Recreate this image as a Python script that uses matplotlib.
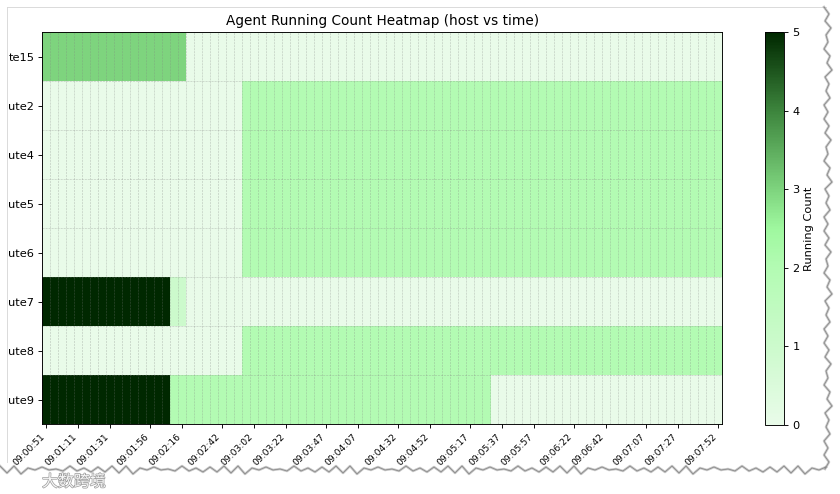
import numpy as np
import matplotlib
matplotlib.use("Agg")
import matplotlib.pyplot as plt
import matplotlib.patheffects as pe
from matplotlib.colors import LinearSegmentedColormap
from matplotlib.lines import Line2D

hosts = ["te15", "ute2", "ute4", "ute5", "ute6", "ute7", "ute8", "ute9"]
n_cols = 85
tick_labels = ["09:00:51", "09:01:11", "09:01:31", "09:01:56", "09:02:16",
               "09:02:42", "09:03:02", "09:03:22", "09:03:47", "09:04:07",
               "09:04:32", "09:04:52", "09:05:17", "09:05:37", "09:05:57",
               "09:06:22", "09:06:42", "09:07:07", "09:07:27", "09:07:52"]

# run-length encoded counts per host: (value, number of time columns)
runs_te15 = [(3, 18), (0, 67)]
runs_ute2 = [(0, 25), (2, 60)]
runs_ute4 = [(0, 25), (2, 60)]
runs_ute5 = [(0, 25), (2, 60)]
runs_ute6 = [(0, 25), (2, 60)]
runs_ute7 = [(5, 16), (1, 2), (0, 67)]
runs_ute8 = [(0, 25), (2, 60)]
runs_ute9 = [(5, 16), (2, 40), (0, 29)]
all_runs = [runs_te15, runs_ute2, runs_ute4, runs_ute5,
            runs_ute6, runs_ute7, runs_ute8, runs_ute9]

matrix = np.array([np.repeat([v for v, _ in r], [c for _, c in r]) for r in all_runs],
                  dtype=float)

cmap = LinearSegmentedColormap.from_list(
    "agent_greens",
    [(0.0, "#e9fbe9"), (0.2, "#ccfacc"), (0.4, "#b3fbb3"), (0.5, "#9ff89f"),
     (0.6, "#7ed47e"), (0.8, "#3d853d"), (1.0, "#002800")])

DPI = 82
W, H = 840, 494
fig = plt.figure(figsize=(W / DPI, H / DPI), dpi=DPI)
ax = fig.add_axes([42.3 / W, 1 - 424.3 / H, 680 / W, 392 / H])
cax = fig.add_axes([765 / W, 1 - 425 / H, 19.3 / W, 392.7 / H])

im = ax.imshow(matrix, aspect="auto", cmap=cmap, vmin=0, vmax=5,
               interpolation="nearest")

tick_idx = np.linspace(0, n_cols - 1, len(tick_labels)).astype(int)
ax.set_xticks(tick_idx)
ax.set_xticklabels(tick_labels, rotation=45, ha="right", fontsize=8)
ax.set_yticks(np.arange(len(hosts)))
ax.set_yticklabels(hosts, fontsize=10)

ax.set_xticks(np.arange(n_cols + 1) - 0.5, minor=True)
ax.set_yticks(np.arange(len(hosts) + 1) - 0.5, minor=True)
ax.grid(which="minor", color="gray", linestyle="--", linewidth=0.5, alpha=0.45)
ax.tick_params(which="minor", length=0)
ax.grid(which="major", visible=False)

ax.set_title("Agent Running Count Heatmap (host vs time)", fontsize=12)

cb = fig.colorbar(im, cax=cax)
cb.set_label("Running Count", fontsize=10)
cb.set_ticks([0, 1, 2, 3, 4, 5])

# screenshot frame and torn-paper edge (decoration)
def px(x, y):
    return x / W, 1 - y / H

frame_col = "#d8d8d8"
fig.add_artist(Line2D(*zip(px(7, 7), px(826, 7)), color=frame_col, lw=0.8,
                      transform=fig.transFigure))
fig.add_artist(Line2D(*zip(px(7, 7), px(7, 462)), color=frame_col, lw=0.8,
                      transform=fig.transFigure))

jag = [0, 5, 1, 7, 2, 4, 0, 6, 3, 8, 1, 5, 2, 6, 0, 4]
ry = np.arange(7, 470, 7)
rx = [824 + jag[i % len(jag)] for i in range(len(ry))]
bx = np.arange(0, 830, 7)
by = [466 + jag[(i * 3) % len(jag)] for i in range(len(bx))]
for xs, ys in ((rx, ry), (bx, by)):
    pts = [px(a, b) for a, b in zip(xs, ys)]
    fig.add_artist(Line2D([p[0] for p in pts], [p[1] for p in pts],
                          color="#9a9a9a", lw=2.2, alpha=0.55,
                          transform=fig.transFigure))
    fig.add_artist(Line2D([p[0] for p in pts], [p[1] for p in pts],
                          color="#707070", lw=0.6, alpha=0.8,
                          transform=fig.transFigure))

fig.text(42 / W, 1 - 482 / H, "大数跨境", family=["Noto Sans CJK SC", "DejaVu Sans"],
         fontsize=14, color="#f6f6f6", va="center", ha="left",
         path_effects=[pe.withStroke(linewidth=1.2, foreground="#9a9a9a")])

fig.savefig("out.png", dpi=DPI, facecolor="white")
